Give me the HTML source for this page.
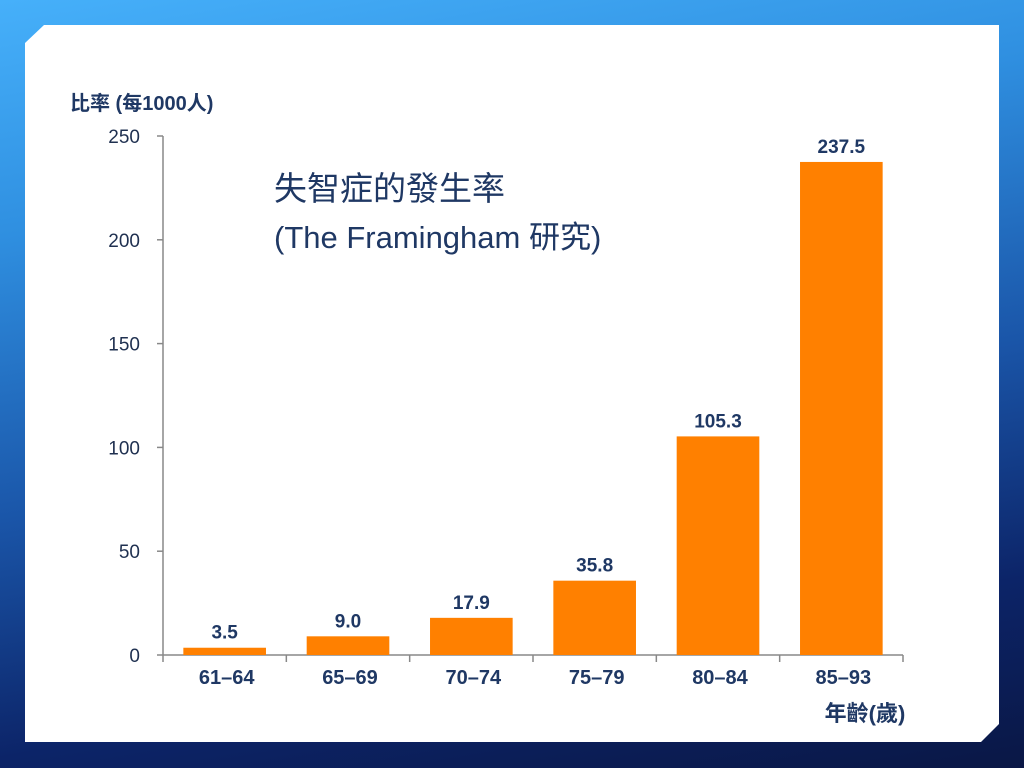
<!DOCTYPE html>
<html><head><meta charset="utf-8"><style>
body{margin:0;width:1024px;height:768px;overflow:hidden;background:linear-gradient(170deg,#46b0fa 0%,#2f8fe0 25%,#1a55a8 55%,#0c2468 80%,#0a1745 100%);font-family:"Liberation Sans","Noto Sans CJK TC",sans-serif;}
#panel{position:absolute;left:25px;top:25px;width:974px;height:717px;background:#fff;clip-path:polygon(19px 0,100% 0,100% calc(100% - 18px),calc(100% - 18px) 100%,0 100%,0 18px);}
svg{position:absolute;left:0;top:0}
</style></head><body>
<div id="panel"></div>
<svg id="chart" width="1024" height="768"></svg>
<script>
const categories=["61–64","65–69","70–74","75–79","80–84","85–93"];
const values=[3.5,9.0,17.9,35.8,105.3,237.5];
const valueLabels=["3.5","9.0","17.9","35.8","105.3","237.5"];
const yTicks=[0,50,100,150,200,250];
const ns="http://www.w3.org/2000/svg";
const svg=document.getElementById('chart');
const X0=163,X1=903,Y0=655,Y1=136,YMAX=250;
const bw=(X1-X0)/categories.length;
const y=v=>Y0-(v/YMAX)*(Y0-Y1);
const x=i=>X0+bw*i;
function mk(t,a,txt){const e=document.createElementNS(ns,t);for(const k in a)e.setAttribute(k,a[k]);if(txt!==undefined)e.textContent=txt;svg.appendChild(e);return e;}
const fam='"Liberation Sans","Noto Sans CJK TC",sans-serif';
let ax=mk('line',{x1:X0,y1:Y1,x2:X0,y2:Y0,stroke:'#888','stroke-width':1.5});

let xa=mk('line',{x1:X0,y1:Y0,x2:X1,y2:Y0,stroke:'#888','stroke-width':1.5});

yTicks.forEach(t=>{
 const tk=mk('line',{x1:X0-6,y1:y(t),x2:X0,y2:y(t),stroke:'#888','stroke-width':1.5});
 
 const tl=mk('text',{x:140,y:y(t)+7,'text-anchor':'end','font-size':19,fill:'#1f3050','font-family':fam},t);
 
});
for(let i=0;i<=categories.length;i++){
 const tk=mk('line',{x1:x(i),y1:Y0,x2:x(i),y2:Y0+7,stroke:'#888','stroke-width':1.5});
 
}
categories.forEach((c,i)=>{
 const cx=x(i)+bw/2,w=bw*0.67;
 const b=mk('rect',{x:cx-w/2,y:y(values[i]),width:w,height:Y0-y(values[i]),fill:'#ff8000'});
 
 const vl=mk('text',{x:cx,y:y(values[i])-9,'text-anchor':'middle','font-size':19,'font-weight':'bold',fill:'#1f3864','font-family':fam},valueLabels[i]);
 
 const cl=mk('text',{x:cx+2,y:684,'text-anchor':'middle','font-size':20,'font-weight':'bold',fill:'#1f3864','font-family':fam},c);
 
});
let yt=mk('text',{x:70,y:110,'font-size':20,'font-weight':'bold',fill:'#1f3864','font-family':fam},'比率 (每1000人)');

let xt=mk('text',{x:865,y:721,'text-anchor':'middle','font-size':22,'font-weight':'bold',fill:'#1f3864','font-family':fam},'年齡(歲)');

let t1=mk('text',{x:274,y:200,'font-size':33,fill:'#1f3864','font-family':fam},'失智症的發生率');

let t2=mk('text',{x:274,y:248,'font-size':31,fill:'#1f3864','font-family':fam},'(The Framingham 研究)');

</script>
</body></html>
